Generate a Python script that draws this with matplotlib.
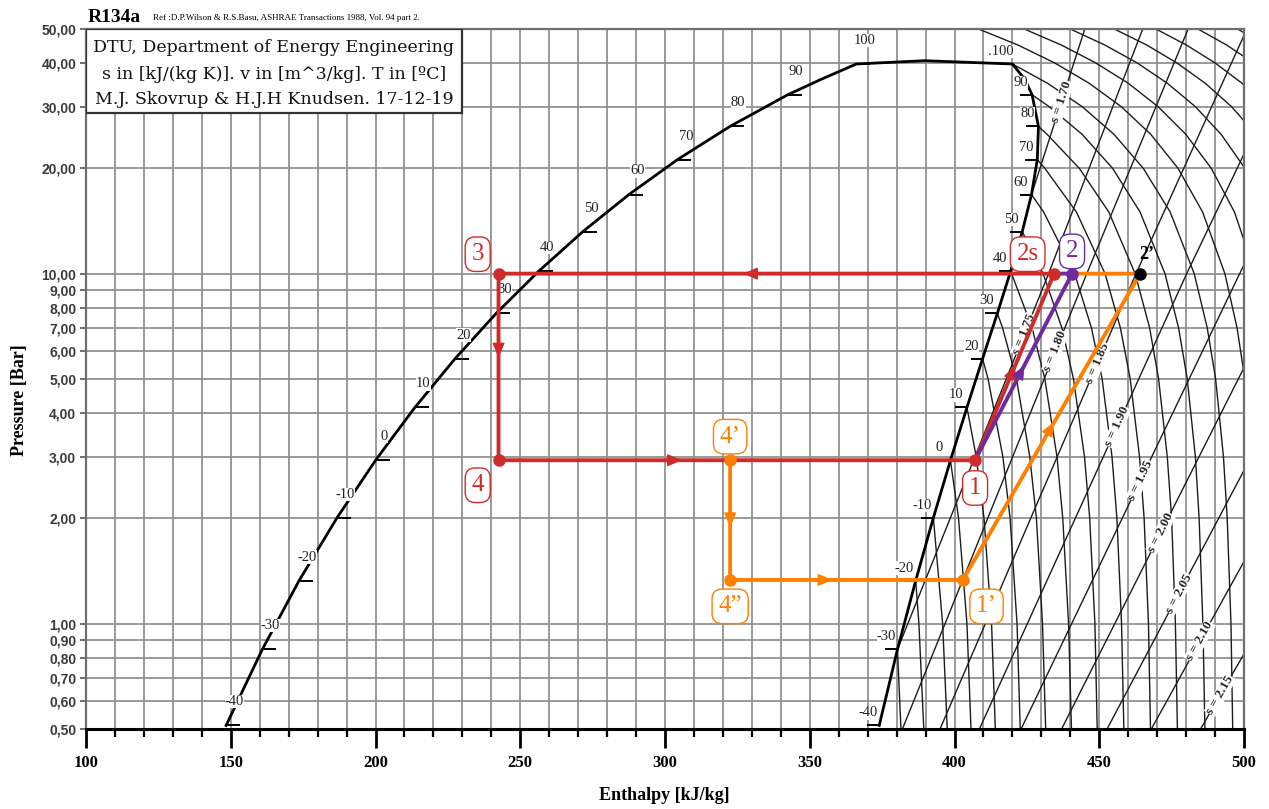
import numpy as np
import matplotlib.pyplot as plt
from matplotlib.patches import Rectangle
from matplotlib.ticker import FixedLocator, MultipleLocator, NullLocator

N = float("nan")

# saturation dome of R134a (T in C, p in bar, h in kJ/kg)
sat_T = [-40, -30, -20, -10, 0, 10, 20, 30, 40, 50, 60, 70, 80, 90, 95, 100]
sat_p = [0.512, 0.844, 1.327, 2.006, 2.928, 4.146, 5.717, 7.702, 10.166,
         13.18, 16.82, 21.17, 26.33, 32.44, 35.9, 39.72]
sat_hl = [148.4, 160.9, 173.6, 186.7, 200.0, 213.6, 227.5, 241.7, 256.4,
          271.6, 287.5, 304.3, 322.4, 342.4, 353.9, 366.1]
sat_hv = [374.0, 380.3, 386.6, 392.7, 398.6, 404.3, 409.7, 414.8, 419.4,
          423.4, 426.6, 428.6, 429.0, 426.8, 424.3, 420.0]
crit_h, crit_p = 389.6, 40.59

# superheated isotherms, h at these pressures
iso_p = [0.5, 1, 2, 3, 5, 7, 10, 15, 20, 25, 30, 35, 40, 45, 50]
iso_T = [-30, -20, -10, 0, 10, 20, 30, 40, 50, 60, 70, 80, 90, 100,
         110, 120, 130, 140, 150, 160, 170]
iso_h = [
    [381.5, N, N, N, N, N, N, N, N, N, N, N, N, N, N],
    [389.4, 387.7, N, N, N, N, N, N, N, N, N, N, N, N, N],
    [397.5, 395.9, N, N, N, N, N, N, N, N, N, N, N, N, N],
    [405.7, 404.3, 401.4, N, N, N, N, N, N, N, N, N, N, N, N],
    [414.1, 412.8, 410.2, 407.5, N, N, N, N, N, N, N, N, N, N, N],
    [422.7, 421.6, 419.2, 416.7, 411.6, N, N, N, N, N, N, N, N, N, N],
    [431.5, 430.4, 428.3, 426.0, 421.4, 416.6, N, N, N, N, N, N, N, N, N],
    [440.4, 439.4, 437.4, 435.4, 431.2, 426.8, N, N, N, N, N, N, N, N, N],
    [449.3, 448.5, 446.7, 444.9, 441.1, 437.1, 430.6, N, N, N, N, N, N, N, N],
    [458.5, 457.7, 456.1, 454.4, 451.0, 447.3, 441.5, 430.8, N, N, N, N, N, N, N],
    [467.7, 467.0, 465.5, 463.9, 460.7, 457.3, 452.0, 442.1, 431.2, N, N, N, N, N, N],
    [477.0, 476.3, 475.0, 473.5, 470.5, 467.4, 462.4, 453.3, 443.1, 432.0, N, N, N, N, N],
    [486.5, 485.8, 484.5, 483.2, 480.4, 477.4, 472.7, 464.1, 454.6, 444.1, 432.7, N, N, N, N],
    [496.1, 495.5, 494.2, 492.9, 490.2, 487.3, 482.8, 474.5, 465.2, 455.1, 444.1, 432.1, N, N, N],
    [505.7, 505.2, 504.0, 502.8, 500.3, 497.6, 493.4, 485.7, 477.2, 467.8, 457.6, 446.5, 434.6, 421.9, 408.3],
    [N, N, N, N, 510.4, 507.9, 503.9, 496.7, 488.7, 479.9, 470.3, 460.0, 448.8, 436.9, 424.1],
    [N, N, N, N, N, N, 514.5, 507.8, 500.3, 492.1, 483.2, 473.5, 463.1, 451.9, 440.0],
    [N, N, N, N, N, N, N, 518.8, 511.8, 504.1, 495.7, 486.6, 476.8, 466.4, 455.2],
    [N, N, N, N, N, N, N, N, 523.1, 515.8, 507.9, 499.3, 490.0, 480.1, 469.6],
    [N, N, N, N, N, N, N, N, N, 527.6, 520.1, 512.0, 503.3, 494.0, 484.1],
    [N, N, N, N, N, N, N, N, N, N, 532.1, 524.4, 516.1, 507.2, 497.8],
]

# isentropes: start point, h at 10 bar and 50 bar
isen_s = [1.70, 1.75, 1.80, 1.85, 1.90, 1.95, 2.00, 2.05, 2.10, 2.15]
isen_p_lo = [16.82, 0.844, 0.5, 0.5, 0.5, 0.5, 0.5, 0.5, 0.5, 0.5]
isen_h_lo = [426.6, 380.3, 382.0, 395.0, 408.6, 423.0, 437.0, 452.7, 468.0, 485.0]
isen_h_10 = [N, 432.5, 445.7, 462.7, 480.2, 498.5, 516.4, 536.0, 555.0, 576.0]
isen_h_50 = [445.0, 465.0, 480.7, 501.0, 520.7, 540.0, 560.0, 580.0, 600.0, 621.0]
isen_label_p = [31.0, 6.7, 6.0, 5.56, 3.65, 2.57, 1.82, 1.22, 0.89, 0.625]

# refrigeration cycle states
pts = {
    "1": (407.1, 2.93), "2s": (434.4, 10.0), "2": (440.6, 10.0),
    "2'": (464.1, 10.0), "3": (242.5, 10.0), "4": (242.5, 2.93),
    "4'": (322.5, 2.93), "4''": (322.5, 1.333), "1'": (402.9, 1.333),
}
red_path = ["1", "2s", "3", "4", "1"]
red_arrows = [0.51, 0.56, 0.45, 0.385]
purple_path = ["1", "2", "2s"]
purple_arrows = [0.51, None]
orange_path = ["4'", "4''", "1'", "2'", "2"]
orange_arrows = [0.56, 0.44, 0.516, None]

y_ticks = [0.5, 0.6, 0.7, 0.8, 0.9, 1, 2, 3, 4, 5, 6, 7, 8, 9, 10, 20, 30, 40, 50]

RED, PURPLE, ORANGE = "#cf2b2b", "#6f2a9e", "#ff8000"
LINE = "#1c1c1c"

fig = plt.figure(figsize=(12.69, 8.09), dpi=100)
ax = fig.add_axes([86 / 1269, 80 / 809, 1158 / 1269, 700 / 809])
ax.set_yscale("log")
ax.set_xlim(100, 500)
ax.set_ylim(0.5, 50)

ax.xaxis.set_major_locator(MultipleLocator(50))
ax.xaxis.set_minor_locator(MultipleLocator(10))
ax.yaxis.set_major_locator(FixedLocator(y_ticks))
ax.yaxis.set_minor_locator(NullLocator())
ax.set_yticklabels([f"{v:.2f}".replace(".", ",") for v in y_ticks])
ax.grid(which="both", color="#929292", lw=1.3, zorder=0)
ax.set_axisbelow(True)

ax.tick_params(axis="x", which="major", length=14, width=2, pad=5, direction="out")
ax.tick_params(axis="x", which="minor", length=6, width=1.6, direction="out")
ax.tick_params(axis="y", length=4, width=1.2, color="#555", pad=3)
for lab in ax.get_xticklabels():
    lab.set_fontfamily("Liberation Serif")
    lab.set_fontweight("bold")
    lab.set_fontsize(12)
for lab in ax.get_yticklabels():
    lab.set_fontfamily("Liberation Sans")
    lab.set_fontweight("bold")
    lab.set_fontsize(10)
    lab.set_color("#3b3b3b")
for side in ["top", "right", "left"]:
    ax.spines[side].set_color("#6e6e6e")
    ax.spines[side].set_linewidth(1.6)
ax.spines["bottom"].set_color("black")
ax.spines["bottom"].set_linewidth(2.2)

# isotherms in the superheated region
for i, T in enumerate(iso_T):
    hs = [h for h in iso_h[i] if not np.isnan(h)]
    ps = [p for h, p in zip(iso_h[i], iso_p) if not np.isnan(h)]
    if T in sat_T:
        k = sat_T.index(T)
        hs.append(sat_hv[k])
        ps.append(sat_p[k])
    ax.plot(hs, ps, color=LINE, lw=1.0, zorder=2)

# isentropes
for s, plo, hlo, h10, h50, lp in zip(isen_s, isen_p_lo, isen_h_lo, isen_h_10,
                                     isen_h_50, isen_label_p):
    hs, ps = [], []
    for h, p in zip([hlo, h10, h50], [plo, 10.0, 50.0]):
        if not np.isnan(h) and p >= plo:
            hs.append(h)
            ps.append(p)
    ax.plot(hs, ps, color=LINE, lw=1.0, zorder=2)
    lg = np.log10(ps)
    hl = np.interp(np.log10(lp), lg, hs)
    ha_ = np.interp(np.log10(lp) - 0.05, lg, hs)
    hb_ = np.interp(np.log10(lp) + 0.05, lg, hs)
    d0 = ax.transData.transform((ha_, 10 ** (np.log10(lp) - 0.05)))
    d1 = ax.transData.transform((hb_, 10 ** (np.log10(lp) + 0.05)))
    ang = np.degrees(np.arctan2(d1[1] - d0[1], d1[0] - d0[0]))
    ax.text(hl, lp, f"s = {s:.2f}", rotation=ang, rotation_mode="anchor",
            ha="center", va="center", fontsize=9.5, fontweight="bold",
            family="Liberation Serif", color="#222", zorder=3,
            bbox=dict(fc="white", ec="none", pad=0.3))

# saturation dome
dome_h = sat_hl + [crit_h] + sat_hv[::-1]
dome_p = sat_p + [crit_p] + sat_p[::-1]
ax.plot(dome_h, dome_p, color="black", lw=2.0, zorder=3, solid_joinstyle="round")
for T, p, hl, hv in zip(sat_T, sat_p, sat_hl, sat_hv):
    if T % 10:
        continue
    ax.plot([hl], [p], marker=1, ms=10, mew=1.4, color="black", zorder=3)
    ax.plot([hv], [p], marker=0, ms=9, mew=1.4, color="black", zorder=3)
    ax.annotate(str(T), (hl, p), xytext=(6, 17), textcoords="offset points",
                ha="center", va="center", fontsize=10.5, family="Liberation Serif",
                color="#222", zorder=4,
                bbox=dict(fc="white", ec="none", pad=0.1))
    ax.annotate(("." if T == 100 else "") + str(T), (hv, p), xytext=(-8, 9),
                textcoords="offset points", ha="center", va="center",
                fontsize=10.5, family="Liberation Serif", color="#222", zorder=4,
                bbox=dict(fc="white", ec="none", pad=0.1))


def arrow_on(a, b, frac, color):
    (h0, p0), (h1, p1) = pts[a], pts[b]
    l0, l1 = np.log10(p0), np.log10(p1)
    xa, ya = h0 + (frac - 0.02) * (h1 - h0), 10 ** (l0 + (frac - 0.02) * (l1 - l0))
    xb, yb = h0 + frac * (h1 - h0), 10 ** (l0 + frac * (l1 - l0))
    ax.annotate("", xy=(xb, yb), xytext=(xa, ya), zorder=7,
                arrowprops=dict(arrowstyle="-|>,head_length=0.9,head_width=0.38",
                                color=color, lw=1, shrinkA=0, shrinkB=0))


for path, arrows, color in [(red_path, red_arrows, RED),
                            (purple_path, purple_arrows, PURPLE),
                            (orange_path, orange_arrows, ORANGE)]:
    ax.plot([pts[k][0] for k in path], [pts[k][1] for k in path],
            color=color, lw=2.8, zorder=6, solid_capstyle="round")
    for a, b, f in zip(path[:-1], path[1:], arrows):
        if f is not None:
            arrow_on(a, b, f, color)

for keys, color in [(["1", "2s", "3", "4"], RED), (["2"], PURPLE),
                    (["4'", "4''", "1'"], ORANGE), (["2'"], "black")]:
    ax.plot([pts[k][0] for k in keys], [pts[k][1] for k in keys], ls="none",
            marker="o", ms=8, color=color, zorder=8)

# state labels: text, offset (pt), colour
labels = [
    ("3", "3", (-15, 14), RED), ("4", "4", (-15, -18), RED),
    ("1", "1", (0, -20), RED), ("2s", "2s", (-19, 14), RED),
    ("2", "2", (0, 16), PURPLE), ("4'", "4\u2019", (0, 17), ORANGE),
    ("4''", "4\u201d", (0, -19), ORANGE), ("1'", "1\u2019", (17, -19), ORANGE),
]
for key, txt, off, color in labels:
    ax.annotate(txt, pts[key], xytext=off, textcoords="offset points",
                ha="center", va="center", fontsize=18, family="Liberation Serif",
                color=color, zorder=9,
                bbox=dict(boxstyle="round,pad=0.25,rounding_size=0.4",
                          fc="white", ec=color, lw=1.0))
ax.annotate("2\u2019", pts["2'"], xytext=(5, 14), textcoords="offset points",
            ha="center", va="center", fontsize=13, fontweight="bold",
            family="Liberation Serif", color="black", zorder=9)

# info box
ax.add_patch(Rectangle((0, 0.88), 0.3247, 0.12, transform=ax.transAxes,
                       fc="white", ec="#333", lw=1.6, zorder=10))
info = ["DTU, Department of Energy Engineering",
        "s in [kJ/(kg K)]. v in [m^3/kg]. T in [\u00baC]",
        "M.J. Skovrup & H.J.H Knudsen. 17-12-19"]
for line, yy in zip(info, [0.9729, 0.9357, 0.9]):
    ax.text(0.1623, yy, line, transform=ax.transAxes, ha="center", va="center",
            fontsize=12.5, family="DejaVu Serif", color="#111", zorder=11)

fig.text(88 / 1269, 1 - 17 / 809, "R134a", ha="left", va="center",
         fontsize=14, fontweight="bold", family="Liberation Serif")
fig.text(153 / 1269, 1 - 18 / 809,
         "Ref :D.P.Wilson & R.S.Basu, ASHRAE Transactions 1988, Vol. 94 part 2.",
         ha="left", va="center", fontsize=6.5, family="Liberation Serif")
fig.text(20 / 1269, 1 - 400 / 809, "Pressure [Bar]", rotation=90, ha="center",
         va="center", fontsize=13, fontweight="bold", family="Liberation Serif")
fig.text(664 / 1269, 1 - 795 / 809, "Enthalpy [kJ/kg]", ha="center",
         va="center", fontsize=13, fontweight="bold", family="Liberation Serif")

fig.savefig("out.png", dpi=100)
